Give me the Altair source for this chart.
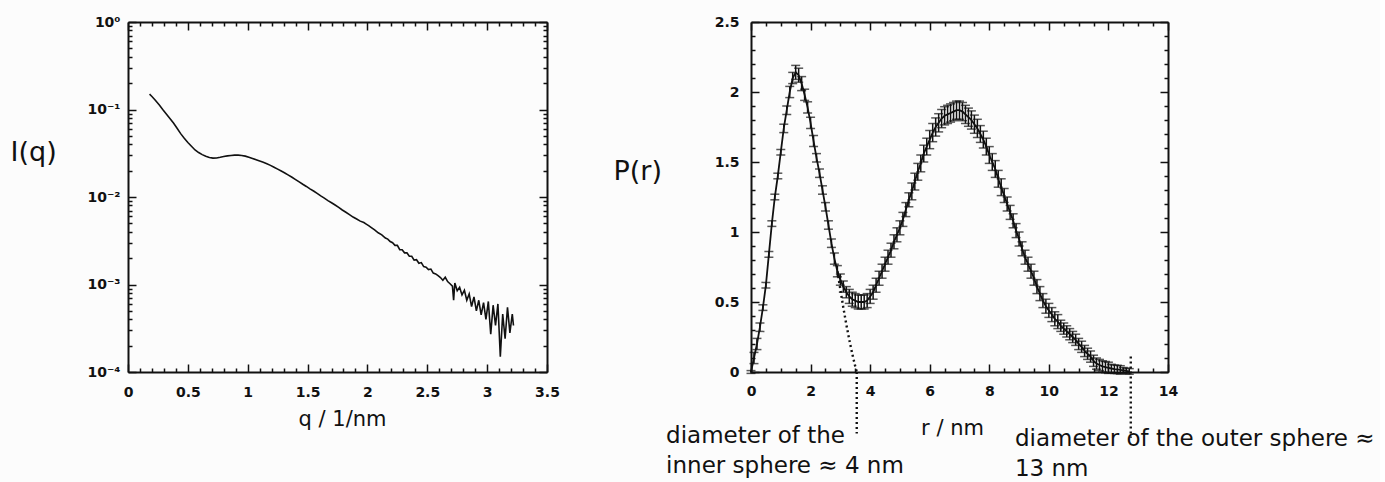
import altair as alt
import pandas as pd

FONT = "DejaVu Sans"
INK = "#111111"

# ---------------- scattering curve I(q) ----------------
q_values = [
    0.18, 0.20, 0.23, 0.26, 0.29, 0.32, 0.35, 0.38, 0.41, 0.44,
    0.47, 0.50, 0.53, 0.56, 0.59, 0.62, 0.65, 0.68, 0.71, 0.74,
    0.77, 0.80, 0.83, 0.86, 0.89, 0.92, 0.95, 0.98, 1.01, 1.04,
    1.07, 1.10, 1.13, 1.16, 1.19, 1.22, 1.25, 1.28, 1.31, 1.34,
    1.37, 1.40, 1.43, 1.46, 1.49, 1.52, 1.55, 1.58, 1.61, 1.64,
    1.67, 1.70, 1.73, 1.76, 1.79, 1.82, 1.85, 1.88, 1.91, 1.94,
    1.97, 1.99, 2.01, 2.03, 2.06, 2.09, 2.12, 2.15, 2.17, 2.19,
    2.21, 2.23, 2.25, 2.27, 2.29, 2.31, 2.33, 2.35, 2.37, 2.39,
    2.41, 2.43, 2.45, 2.47, 2.49, 2.51, 2.53, 2.55, 2.57, 2.59,
    2.61, 2.63, 2.65, 2.67, 2.69, 2.71, 2.72, 2.73, 2.75, 2.77,
    2.79, 2.81, 2.83, 2.85, 2.87, 2.89, 2.91, 2.93, 2.95, 2.97,
    2.99, 3.01, 3.03, 3.05, 3.07, 3.09, 3.11, 3.13, 3.15, 3.17,
    3.19, 3.21, 3.22,
]
intensity = [
    0.150, 0.141, 0.127, 0.113, 0.100, 0.089, 0.079, 0.070, 0.061, 0.053,
    0.047, 0.042, 0.038, 0.0345, 0.0322, 0.0305, 0.0292, 0.0283, 0.0278, 0.0279,
    0.0284, 0.0290, 0.0295, 0.0298, 0.0301, 0.0301, 0.0298, 0.0293, 0.0285, 0.0276,
    0.0267, 0.0258, 0.0249, 0.0240, 0.0230, 0.0219, 0.0208, 0.0198, 0.0188, 0.0178,
    0.0168, 0.0158, 0.0149, 0.0140, 0.0132, 0.0124, 0.0117, 0.0110, 0.0103, 0.0097,
    0.0091, 0.0086, 0.0081, 0.0076, 0.0071, 0.0067, 0.0063, 0.0059, 0.0056, 0.0053,
    0.0051, 0.0049, 0.0047, 0.0045, 0.0042, 0.0039, 0.0037, 0.0034, 0.0033, 0.0031,
    0.0030, 0.0028, 0.0028, 0.0025, 0.0025, 0.0023, 0.0023, 0.0021, 0.0021, 0.0019,
    0.00192, 0.00175, 0.00178, 0.00160, 0.00158, 0.00148, 0.00150, 0.00135, 0.00132, 0.00126,
    0.00120, 0.00112, 0.00121, 0.00108, 0.00102, 0.00096, 0.00066, 0.00104, 0.00085, 0.00093,
    0.00076, 0.00086, 0.00066, 0.00078, 0.00056, 0.00072, 0.00050, 0.00066, 0.00045, 0.00062,
    0.00040, 0.00064, 0.00027, 0.00058, 0.00034, 0.00060, 0.00015, 0.00046, 0.00024, 0.00055,
    0.00028, 0.00046, 0.00034,
]

# ---------------- pair distance distribution P(r) ----------------
r_values = [
    0.0, 0.1, 0.2, 0.3, 0.4, 0.5, 0.6, 0.7, 0.8, 0.9,
    1.0, 1.1, 1.2, 1.3, 1.4, 1.5, 1.6, 1.7, 1.8, 1.9,
    2.0, 2.1, 2.2, 2.3, 2.4, 2.5, 2.6, 2.7, 2.8, 2.9,
    3.0, 3.1, 3.2, 3.3, 3.4, 3.5, 3.6, 3.7, 3.8, 3.9,
    4.0, 4.1, 4.2, 4.3, 4.4, 4.5, 4.6, 4.7, 4.8, 4.9,
    5.0, 5.1, 5.2, 5.3, 5.4, 5.5, 5.6, 5.7, 5.8, 5.9,
    6.0, 6.1, 6.2, 6.3, 6.4, 6.5, 6.6, 6.7, 6.8, 6.9,
    7.0, 7.1, 7.2, 7.3, 7.4, 7.5, 7.6, 7.7, 7.8, 7.9,
    8.0, 8.1, 8.2, 8.3, 8.4, 8.5, 8.6, 8.7, 8.8, 8.9,
    9.0, 9.1, 9.2, 9.3, 9.4, 9.5, 9.6, 9.7, 9.8, 9.9,
    10.0, 10.1, 10.2, 10.3, 10.4, 10.5, 10.6, 10.7, 10.8, 10.9,
    11.0, 11.1, 11.2, 11.3, 11.4, 11.5, 11.6, 11.7, 11.8, 11.9,
    12.0, 12.1, 12.2, 12.3, 12.4, 12.5, 12.6, 12.7,
]
p_values = [
    0.00, 0.10, 0.20, 0.32, 0.46, 0.62, 0.84, 1.06, 1.25, 1.40,
    1.57, 1.74, 1.87, 2.00, 2.10, 2.14, 2.12, 2.06, 1.98, 1.89,
    1.78, 1.65, 1.53, 1.42, 1.30, 1.18, 1.05, 0.92, 0.81, 0.72,
    0.66, 0.61, 0.57, 0.54, 0.52, 0.51, 0.50, 0.50, 0.50, 0.51,
    0.54, 0.57, 0.62, 0.67, 0.72, 0.77, 0.82, 0.87, 0.93, 0.98,
    1.03, 1.09, 1.16, 1.23, 1.29, 1.36, 1.43, 1.49, 1.56, 1.61,
    1.66, 1.71, 1.75, 1.78, 1.81, 1.83, 1.84, 1.85, 1.86, 1.87,
    1.87, 1.86, 1.84, 1.82, 1.80, 1.77, 1.74, 1.70, 1.66, 1.61,
    1.55, 1.50, 1.45, 1.38, 1.32, 1.26, 1.20, 1.14, 1.08, 1.01,
    0.95, 0.88, 0.82, 0.77, 0.72, 0.67, 0.61, 0.56, 0.51, 0.47,
    0.44, 0.41, 0.38, 0.36, 0.33, 0.31, 0.29, 0.27, 0.25, 0.23,
    0.20, 0.18, 0.15, 0.13, 0.11, 0.08, 0.06, 0.05, 0.04, 0.035,
    0.03, 0.025, 0.02, 0.018, 0.015, 0.012, 0.008, 0.004,
]
p_errors = [
    0.01, 0.04, 0.04, 0.03, 0.02, 0.02, 0.02, 0.02, 0.02, 0.02,
    0.02, 0.03, 0.03, 0.04, 0.04, 0.05, 0.05, 0.05, 0.04, 0.04,
    0.04, 0.04, 0.03, 0.03, 0.03, 0.03, 0.03, 0.03, 0.04, 0.04,
    0.04, 0.04, 0.04, 0.05, 0.05, 0.05, 0.05, 0.05, 0.05, 0.05,
    0.05, 0.05, 0.05, 0.05, 0.05, 0.05, 0.05, 0.05, 0.05, 0.05,
    0.05, 0.05, 0.05, 0.05, 0.06, 0.06, 0.06, 0.06, 0.06, 0.06,
    0.065, 0.065, 0.065, 0.065, 0.065, 0.065, 0.065, 0.065, 0.065, 0.065,
    0.065, 0.065, 0.065, 0.065, 0.065, 0.065, 0.065, 0.06, 0.06, 0.06,
    0.06, 0.06, 0.06, 0.06, 0.06, 0.05, 0.05, 0.05, 0.05, 0.05,
    0.05, 0.05, 0.05, 0.05, 0.05, 0.05, 0.05, 0.05, 0.05, 0.05,
    0.05, 0.05, 0.05, 0.05, 0.04, 0.04, 0.04, 0.04, 0.04, 0.04,
    0.04, 0.04, 0.04, 0.04, 0.04, 0.04, 0.04, 0.04, 0.04, 0.04,
    0.04, 0.03, 0.03, 0.03, 0.03, 0.02, 0.02, 0.02,
]

# inner-sphere share of P(r) where it leaves the total curve
inner_r = [2.90, 3.00, 3.10, 3.20, 3.30, 3.40, 3.50, 3.55]
inner_p = [0.72, 0.59, 0.46, 0.34, 0.23, 0.13, 0.04, 0.00]

# dotted guides running down to the captions
guide_r = [3.55, 12.75]
guide_top = [0.0, 0.11]
guide_bottom = [-0.44, -0.47]

# captions below the P(r) panel
note_r = [-2.85, -2.85, 8.86, 8.86]
note_p = [-0.455, -0.67, -0.475, -0.69]
note_text = [
    "diameter of the",
    "inner sphere \u2248 4 nm",
    "diameter of the outer sphere \u2248",
    "13 nm",
]

# ---------------- tick positions ----------------
q_major = [0, 0.5, 1, 1.5, 2, 2.5, 3, 3.5]
q_minor = [round(0.1 * k, 1) for k in range(36) if k % 5]
i_major = [1e-4, 1e-3, 1e-2, 1e-1, 1]
i_minor = [m * 10.0 ** e for e in (-4, -3, -2, -1) for m in range(2, 10)]
r_major = [0, 2, 4, 6, 8, 10, 12, 14]
r_minor = [0.5 * k for k in range(29) if k % 4]
p_major = [0, 0.5, 1, 1.5, 2, 2.5]
p_minor = [round(0.1 * k, 1) for k in range(26) if k % 5]

iq = pd.DataFrame({"q": q_values, "I": intensity})
pr = pd.DataFrame({"r": r_values, "P": p_values, "err": p_errors})
pr["lo"] = pr["P"] - pr["err"]
pr["hi"] = pr["P"] + pr["err"]
inner = pd.DataFrame({"r": inner_r, "P": inner_p})
guides = pd.DataFrame({"r": guide_r, "top": guide_top, "bottom": guide_bottom})
notes = pd.DataFrame({"r": note_r, "P": note_p, "text": note_text})

W_L, W_R, H = 419, 417, 350
MAJ, MIN = 8, 4


def tick_axis(orient, values, size, domain=False):
    """Axis that only draws inward ticks (and optionally the frame line)."""
    return alt.Axis(orient=orient, values=values, tickSize={"expr": str(-size)},
                    labels=False, domain=domain, grid=False, title=None)


# ---------------- left panel: I(q) ----------------
q_scale = alt.Scale(domain=[0, 3.5], nice=False)
i_scale = alt.Scale(type="log", domain=[1e-4, 1], nice=False)

exp_labels = ("datum.value > 0.5 ? '10\u2070' : datum.value > 0.05 ? '10\u207b\u00b9' : "
              "datum.value > 0.005 ? '10\u207b\u00b2' : datum.value > 0.0005 ? '10\u207b\u00b3' : '10\u207b\u2074'")

iq_line = alt.Chart(iq).mark_line(color=INK, strokeWidth=1.6).encode(
    x=alt.X("q:Q", scale=q_scale, axis=alt.Axis(
        orient="bottom", values=q_major, format="~g", labelFlush=False,
        tickSize={"expr": str(-MAJ)}, labelPadding=13 + MAJ, grid=False,
        title="q / 1/nm", titleX=214, titleY=47, titleBaseline="middle",
        titleFontSize=21)),
    y=alt.Y("I:Q", scale=i_scale, axis=alt.Axis(
        orient="left", values=i_major, labelExpr=exp_labels, labelFlush=False,
        tickSize={"expr": str(-MAJ)}, labelPadding=8 + MAJ, grid=False,
        title="I(q)", titleAngle=0, titleAlign="left", titleBaseline="middle",
        titleX=-118, titleY=130, titleFontSize=27)),
)


def iq_carrier(x_axis, y_axis):
    return alt.Chart(iq).mark_point(opacity=0).encode(
        x=alt.X("q:Q", scale=q_scale, axis=x_axis),
        y=alt.Y("I:Q", scale=i_scale, axis=y_axis),
    )


left = alt.layer(
    iq_line,
    iq_carrier(tick_axis("bottom", q_minor, MIN), tick_axis("left", i_minor, MIN)),
    iq_carrier(tick_axis("top", q_major, MAJ, True), tick_axis("right", i_major, MAJ, True)),
    iq_carrier(tick_axis("top", q_minor, MIN), tick_axis("right", i_minor, MIN)),
).resolve_axis(x="independent", y="independent").properties(width=W_L, height=H)

# ---------------- right panel: P(r) ----------------
r_scale = alt.Scale(domain=[0, 14], nice=False)
p_scale = alt.Scale(domain=[0, 2.5], nice=False)

pr_line = alt.Chart(pr).mark_line(color=INK, strokeWidth=1.8).encode(
    x=alt.X("r:Q", scale=r_scale, axis=alt.Axis(
        orient="bottom", values=r_major, format="~g", labelFlush=False,
        tickSize={"expr": str(-MAJ)}, labelPadding=12 + MAJ, grid=False,
        title="r / nm", titleX=201, titleY=56, titleBaseline="middle",
        titleFontSize=21)),
    y=alt.Y("P:Q", scale=p_scale, axis=alt.Axis(
        orient="left", values=p_major, format="~g", labelFlush=False,
        tickSize={"expr": str(-MAJ)}, labelPadding=12 + MAJ, grid=False,
        title="P(r)", titleAngle=0, titleAlign="left", titleBaseline="middle",
        titleX=-138, titleY=149, titleFontSize=27)),
)

pr_bars = alt.Chart(pr).mark_rule(color=INK, strokeWidth=1.5).encode(
    x=alt.X("r:Q", scale=r_scale, axis=tick_axis("bottom", r_minor, MIN)),
    y=alt.Y("lo:Q", scale=p_scale, axis=tick_axis("left", p_minor, MIN)),
    y2="hi:Q",
)

pr_caps_lo = alt.Chart(pr).mark_tick(color=INK, orient="horizontal", size=9, thickness=1.5).encode(
    x=alt.X("r:Q", scale=r_scale, axis=tick_axis("top", r_major, MAJ, True)),
    y=alt.Y("lo:Q", scale=p_scale, axis=tick_axis("right", p_major, MAJ, True)),
)

pr_caps_hi = alt.Chart(pr).mark_tick(color=INK, orient="horizontal", size=9, thickness=1.5).encode(
    x=alt.X("r:Q", scale=r_scale, axis=tick_axis("top", r_minor, MIN)),
    y=alt.Y("hi:Q", scale=p_scale, axis=tick_axis("right", p_minor, MIN)),
)

inner_line = alt.Chart(inner).mark_line(
    color=INK, strokeWidth=2.4, strokeDash=[2, 3], clip=False
).encode(
    x=alt.X("r:Q", scale=r_scale, axis=None),
    y=alt.Y("P:Q", scale=p_scale, axis=None),
)

guide_rules = alt.Chart(guides).mark_rule(
    color=INK, strokeWidth=2.4, strokeDash=[2, 3], clip=False
).encode(
    x=alt.X("r:Q", scale=r_scale, axis=None),
    y=alt.Y("top:Q", scale=p_scale, axis=None),
    y2="bottom:Q",
)

note_marks = alt.Chart(notes).mark_text(
    align="left", baseline="middle", font=FONT, fontSize=23, color=INK, clip=False
).encode(
    x=alt.X("r:Q", scale=r_scale, axis=None),
    y=alt.Y("P:Q", scale=p_scale, axis=None),
    text="text:N",
)

right = alt.layer(
    pr_line, pr_bars, pr_caps_lo, pr_caps_hi, inner_line, guide_rules, note_marks
).resolve_axis(x="independent", y="independent").properties(width=W_R, height=H)

chart = alt.hconcat(left, right, spacing=204, bounds="flush").properties(
    padding={"left": 10, "top": 15, "right": 5, "bottom": 2}
).configure(
    background="#fcfcfc", font=FONT
).configure_view(
    strokeWidth=0
).configure_axis(
    labelFont=FONT, labelFontSize=14, labelFontWeight="bold", labelColor=INK,
    titleFont=FONT, titleColor=INK, titleFontWeight="normal",
    domainColor=INK, domainWidth=2, tickColor=INK, tickWidth=1.5,
)

chart.save("out.html", embed_options={"renderer": "svg", "actions": False})
